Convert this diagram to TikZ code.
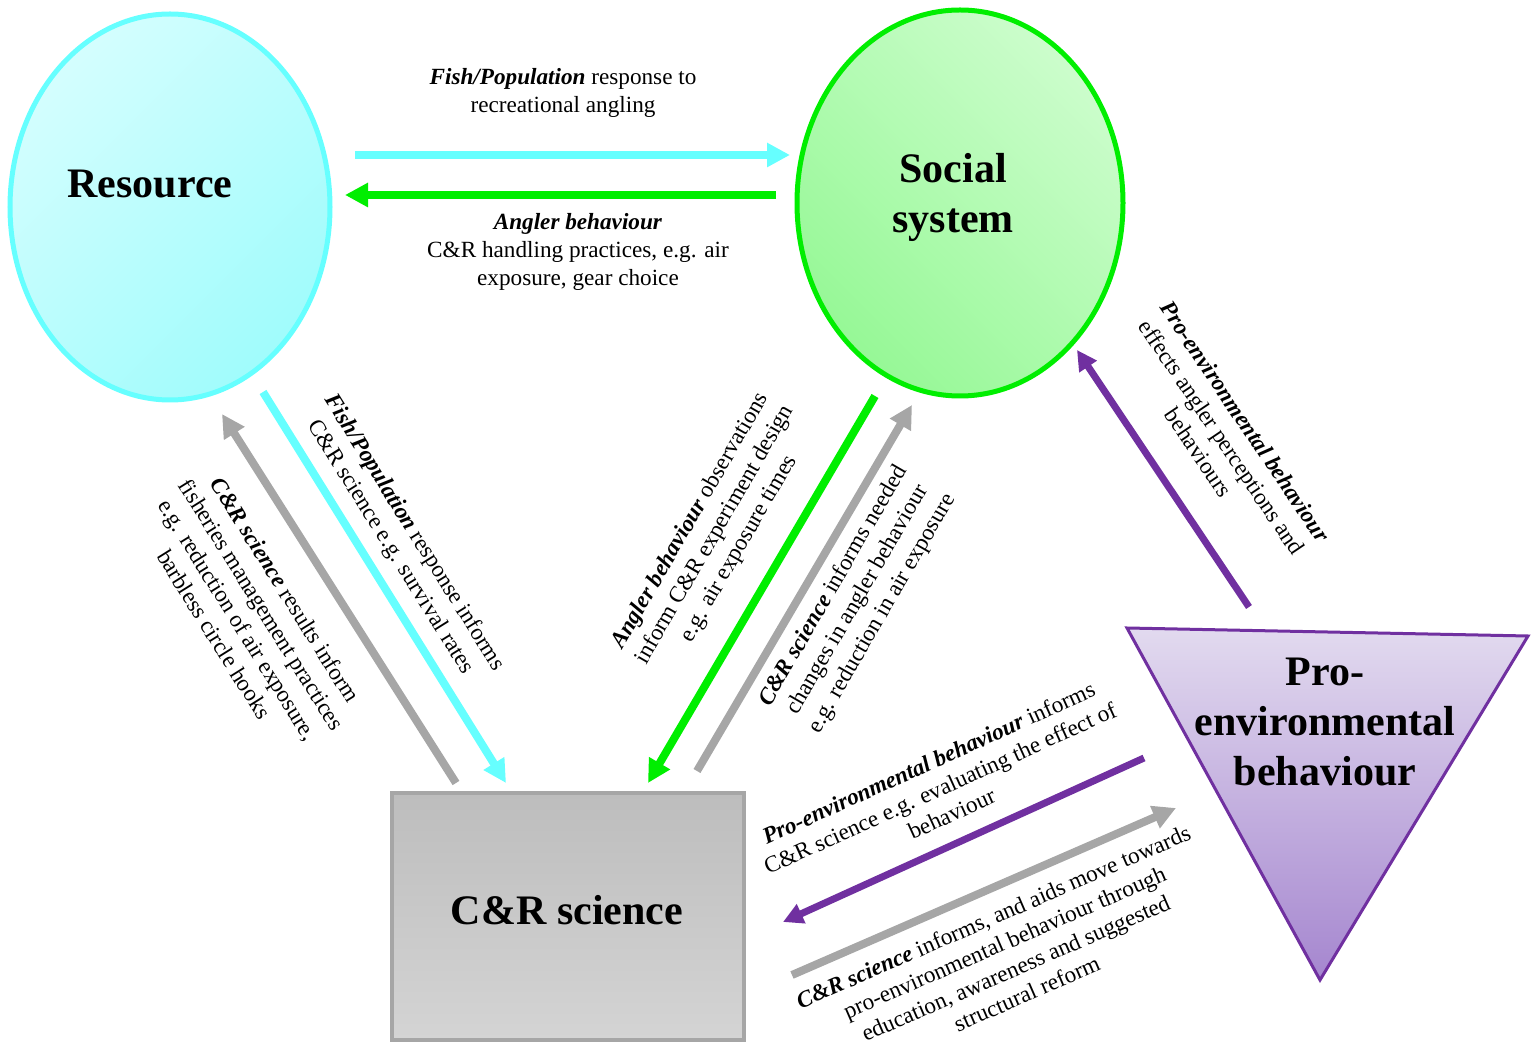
\documentclass[tikz,border=0pt]{standalone}
\usepackage{fontspec}
\setmainfont{Liberation Serif}
\usetikzlibrary{shapes.geometric,arrows.meta}
\definecolor{cyanL}{HTML}{66FFFF}
\definecolor{cyanT}{HTML}{D4FEFE}
\definecolor{cyanB}{HTML}{A0FCFC}
\definecolor{greenL}{HTML}{00EE00}
\definecolor{greenT}{HTML}{CCFDCC}
\definecolor{greenB}{HTML}{96F896}
\definecolor{grayL}{HTML}{A6A6A6}
\definecolor{grayT}{HTML}{BDBDBD}
\definecolor{grayB}{HTML}{D4D4D4}
\definecolor{purpL}{HTML}{7030A0}
\definecolor{purpT}{HTML}{E2DAEF}
\definecolor{purpB}{HTML}{A586CF}
\begin{document}
\begin{tikzpicture}[x=0.5pt,y=-0.5pt,
  title/.style={font=\fontsize{21}{25}\selectfont\bfseries, align=center, inner sep=0pt},
  lab/.style={font=\fontsize{11.6}{14}\selectfont, align=center, inner sep=0pt},
  conn/.style={line width=4pt, -{Triangle[length=11.5pt,width=11.5pt]}},
  thin conn/.style={line width=3.5pt, -{Triangle[length=10pt,width=10pt]}}
]
\useasboundingbox (0,0) rectangle (1533,1047);

% main shapes
\node[ellipse, draw=cyanL, line width=2.5pt, minimum width=160pt, minimum height=193pt,
      top color=cyanT, bottom color=cyanB, shading angle=45] (resource) at (170,207) {};
\node[title] (resourceT) at (150,184) {Resource};

\node[ellipse, draw=greenL, line width=2.5pt, minimum width=163pt, minimum height=193pt,
      top color=greenT, bottom color=greenB, shading angle=-45] (social) at (960,203) {};
\node[title] (socialT) at (953,197) {Social\\system};

\node[rectangle, draw=grayL, line width=2pt, minimum width=176pt, minimum height=123.5pt,
      top color=grayT, bottom color=grayB] (science) at (568,916.5) {};
\node[title] (scienceT) at (567,910) {C\&R science};

\coordinate (p1) at (1127,628);
\coordinate (p2) at (1528,636);
\coordinate (p3) at (1320,980);
\path[draw=purpL, line width=1.5pt, top color=purpT, bottom color=purpB] (p1) -- (p2) -- (p3) -- cycle;
\node[title] (proT) at (1325,722) {Pro-\\environmental\\behaviour};

% connector end points
\coordinate (a1s) at (355,155);  \coordinate (a1e) at (790,155);
\coordinate (a2s) at (776,195);  \coordinate (a2e) at (345,195);
\coordinate (a3s) at (263,392);  \coordinate (a3e) at (506,783);
\coordinate (a4s) at (456,783);  \coordinate (a4e) at (222,414);
\coordinate (a5s) at (875,396);  \coordinate (a5e) at (648,783);
\coordinate (a6s) at (697,771);  \coordinate (a6e) at (912,405);
\coordinate (a7s) at (1249,607); \coordinate (a7e) at (1077,350);
\coordinate (a8s) at (1144,758); \coordinate (a8e) at (783,922);
\coordinate (a9s) at (792,975);  \coordinate (a9e) at (1176,808);

\draw[conn, cyanL] (a1s) -- (a1e);
\draw[conn, greenL] (a2s) -- (a2e);
\draw[conn, cyanL] (a3s) -- (a3e);
\draw[conn, grayL] (a4s) -- (a4e);
\draw[conn, greenL] (a5s) -- (a5e);
\draw[conn, grayL] (a6s) -- (a6e);
\draw[thin conn, purpL] (a7s) -- (a7e);
\draw[thin conn, purpL] (a8s) -- (a8e);
\draw[conn, grayL] (a9s) -- (a9e);

% labels
\node[lab] (lA) at (563,93) {\textbf{\textit{Fish/Population}} response to\\recreational angling};
\node[lab] (lB) at (578,252) {\textbf{\textit{Angler behaviour}}\\C\&R handling practices, e.g. air\\exposure, gear choice};
\node[lab, rotate=-58] (lC) at (402,540) {\textbf{\textit{Fish/Population}} response informs\\C\&R science e.g. survival rates};
\node[lab, rotate=-58] (lD) at (250,612) {\textbf{\textit{C\&R science}} results inform\\fisheries management practices\\e.g. reduction of air exposure,\\barbless circle hooks};
\node[lab, rotate=60] (lE) at (715,535) {\textbf{\textit{Angler behaviour}} observations\\inform C\&R experiment design\\e.g. air exposure times};
\node[lab, rotate=60] (lF) at (858,600) {\textbf{\textit{C\&R science}} informs needed\\changes in angler behaviour\\e.g. reduction in air exposure};
\node[lab, rotate=-56] (lG) at (1222,437) {\textbf{\textit{Pro-environmental behaviour}}\\effects angler perceptions and\\behaviours};
\node[lab, rotate=24.4] (lH) at (940,788) {\textbf{\textit{Pro-environmental behaviour}} informs\\C\&R science e.g. evaluating the effect of\\behaviour};
\node[lab, rotate=23.5] (lI) at (1010,955) {\textbf{\textit{C\&R science}} informs, and aids move towards\\pro-environmental behaviour through\\education, awareness and suggested\\structural reform};
\end{tikzpicture}
\end{document}
